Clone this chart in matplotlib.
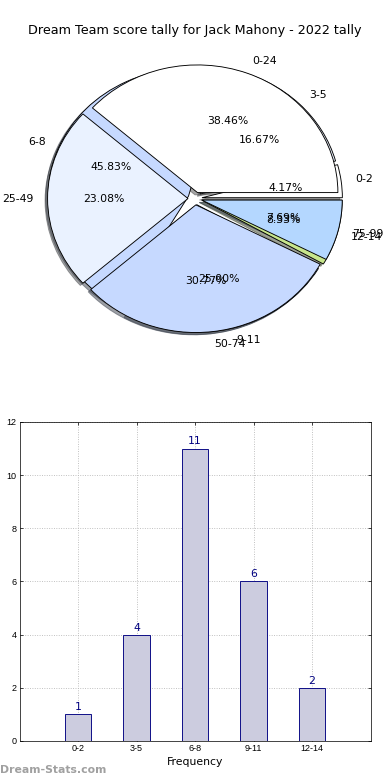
import matplotlib
matplotlib.use("Agg")
import matplotlib.pyplot as plt
import numpy as np

# score tally (percent of games per score band)
score_labels = ["0-24", "25-49", "50-74", "75-99"]
score_counts = [5, 3, 4, 1]

# frequency bins
freq_labels = ["0-2", "3-5", "6-8", "9-11", "12-14"]
freq_counts = [1, 4, 11, 6, 2]

pie_colors = ["#ffffff", "#eaf2ff", "#c6d9ff", "#b4d7ff", "#c8e68c"]

plt.rcParams["font.size"] = 12

fig = plt.figure(figsize=(6, 12), dpi=65)
fig.subplots_adjust(left=0.05, right=0.95, top=0.95, bottom=0.05, hspace=0.2)

# pie chart: two pies drawn on top of each other
ax1 = fig.add_subplot(2, 1, 1)
wprops = dict(edgecolor="black", linewidth=1)
ax1.pie(freq_counts, labels=freq_labels, colors=pie_colors,
        explode=[0.05] * len(freq_counts), autopct="%1.2f%%",
        shadow=True, wedgeprops=wprops)
ax1.pie(score_counts, labels=score_labels, colors=pie_colors[:4],
        explode=[0.05] * len(score_counts), autopct="%1.2f%%",
        shadow=True, wedgeprops=wprops)
ax1.set_aspect("auto")
ax1.set_xlim(-1.25, 1.25)
ax1.set_ylim(-1.25, 1.25)
ax1.set_title("Dream Team score tally for Jack Mahony - 2022 tally", fontsize=14.2)

# bar chart
ax2 = fig.add_subplot(2, 1, 2)
x = np.arange(len(freq_labels))
ax2.bar(x, freq_counts, width=0.45, color="#ccccdf", edgecolor="navy",
        linewidth=1, zorder=2)
for xi, v in zip(x, freq_counts):
    ax2.text(xi, v + 0.08, str(v), ha="center", va="bottom",
             color="navy", fontsize=12)
ax2.set_xlim(-1, 5)
ax2.set_ylim(0, 12)
ax2.set_yticks(range(0, 13, 2))
ax2.set_xticks(x)
ax2.set_xticklabels(freq_labels)
ax2.tick_params(direction="in", top=True, right=True, labelsize=10)
for lab in ax2.get_xticklabels() + ax2.get_yticklabels():
    lab.set_family("Liberation Sans")
ax2.grid(True, linestyle=":", color="#b8b8b8", linewidth=1, zorder=0)
ax2.set_axisbelow(True)
ax2.set_xlabel("Frequency", fontsize=12)
ax2.set_ylabel("Score Interval", fontsize=12)

fig.text(0.0, 0.006, "Dream-Stats.com", color="#a0a0a0",
         fontsize=12, fontweight="bold", ha="left", va="bottom")

fig.savefig("out.png", dpi=65)
